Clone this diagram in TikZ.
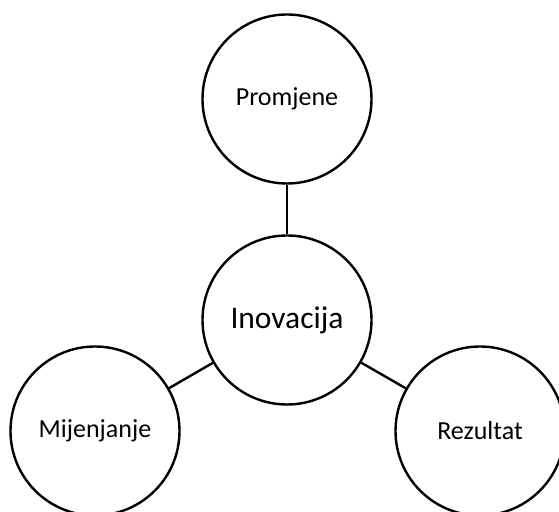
\documentclass[tikz,border=0pt]{standalone}
\usepackage{fontspec}
\setmainfont{Carlito}
\tikzset{
  bubble/.style={draw, circle, line width=2.4pt, minimum size=169pt, inner sep=0pt, font=\fontsize{26}{30}\selectfont},
  link/.style={line width=2.4pt}
}
\begin{document}
\begin{tikzpicture}[x=1pt, y=1pt]
    \useasboundingbox (0, 0) rectangle (559, 511) ;
    \node[bubble] (promjene) at (287, 412) {Promjene} ;
    \node[bubble, font=\fontsize{31.5}{36}\selectfont] (inovacija) at (287, 191) {Inovacija} ;
    \node[bubble] (mijenjanje) at (95, 80) {Mijenjanje} ;
    \node[bubble] (rezultat) at (480, 80) {Rezultat} ;
    \draw[link] (promjene) -- (inovacija) ;
    \draw[link] (inovacija) -- (mijenjanje) ;
    \draw[link] (inovacija) -- (rezultat) ;
  \end{tikzpicture}
\end{document}
